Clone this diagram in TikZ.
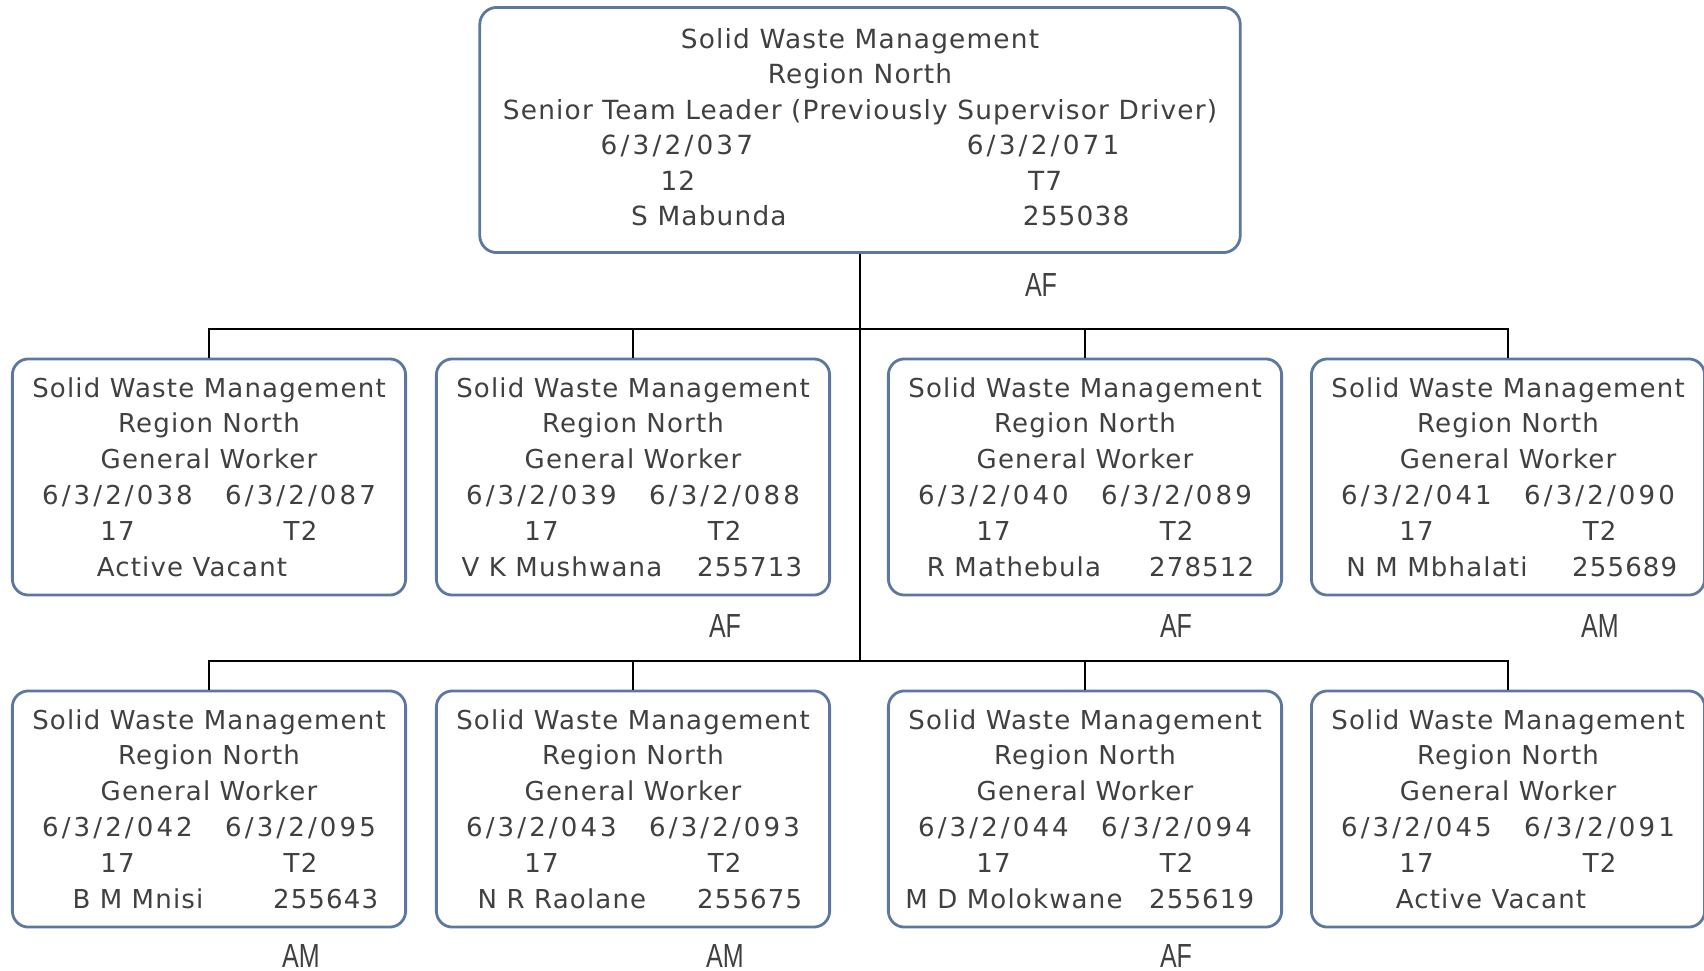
\documentclass[tikz,border=0pt]{standalone}
\usepackage{fontspec}
\newfontfamily\gwfont{DejaVu Sans}[LetterSpace=4.5]
\newfontfamily\codefont{DejaVu Sans}[LetterSpace=12]
\newfontfamily\tagfont{Liberation Sans}[FakeStretch=0.75]
\definecolor{boxline}{RGB}{92,120,160}
\definecolor{txt}{RGB}{64,64,64}
% text centred at an offset from the middle of the line
\newcommand{\atx}[2]{\makebox[0pt]{\hspace*{#1}\hspace*{#1}#2}}
% text starting at an offset from the middle of the line
\newcommand{\atl}[2]{\makebox[0pt][l]{\hspace*{#1}#2}}
\newcommand{\gwtext}[3]{Solid Waste Management\\Region North\\General Worker\\
	\atx{-0.915cm}{\codefont 6/3/2/#1}\atx{0.915cm}{\codefont 6/3/2/#2}\\
	\atx{-0.915cm}{17}\atx{0.915cm}{T2}\\#3}
\newcommand{\who}[2]{\atx{-0.71cm}{#1}\atl{0.64cm}{#2}}
\begin{document}
\begin{tikzpicture}[x=0.01cm, y=-0.01cm, line join=miter,
	topbox/.style={draw=boxline, line width=0.8pt, rounded corners=0.17cm, minimum width=7.6cm, minimum height=2.45cm, align=center, text=txt, inner sep=0pt, font=\gwfont\fontsize{7.5}{10.1}\selectfont},
	gwbox/.style={draw=boxline, line width=0.8pt, rounded corners=0.16cm, minimum width=3.93cm, minimum height=2.36cm, align=center, text=txt, inner sep=0pt, font=\gwfont\fontsize{7.4}{10.2}\selectfont},
	tag/.style={text=txt, inner sep=0pt, font=\tagfont\fontsize{9.5}{10}\selectfont},
	link/.style={line width=0.6pt}]
	
	\useasboundingbox (0,0) rectangle (1704,970);
	
	% Senior Team Leader
	\node[topbox] (top) at (860,130) {Solid Waste Management\\Region North\\Senior Team Leader (Previously Supervisor Driver)\\
		\atx{-1.83cm}{\codefont 6/3/2/037}\atx{1.83cm}{\codefont 6/3/2/071}\\
		\atx{-1.82cm}{12}\atx{1.85cm}{T7}\\
		\atx{-1.51cm}{S Mabunda}\atx{2.16cm}{255038}\rule[-0.06cm]{0pt}{0.06cm}};
	\node[tag] (tagtop) at (1041,285) {AF};
	
	% General Workers, row 1
	\node[gwbox] (r1a) at (209,477) {\gwtext{038}{087}{\atx{-0.17cm}{Active Vacant}}};
	\node[gwbox] (r1b) at (633,477) {\gwtext{039}{088}{\who{V K Mushwana}{255713}}};
	\node[gwbox] (r1c) at (1085,477) {\gwtext{040}{089}{\who{R Mathebula}{278512}}};
	\node[gwbox] (r1d) at (1508,477) {\gwtext{041}{090}{\who{N M Mbhalati}{255689}}};
	\node[tag] (tag1b) at (725,626) {AF};
	\node[tag] (tag1c) at (1176,626) {AF};
	\node[tag] (tag1d) at (1600,626) {AM};
	
	% General Workers, row 2
	\node[gwbox] (r2a) at (209,809) {\gwtext{042}{095}{\who{B M Mnisi}{255643}}};
	\node[gwbox] (r2b) at (633,809) {\gwtext{043}{093}{\who{N R Raolane}{255675}}};
	\node[gwbox] (r2c) at (1085,809) {\gwtext{044}{094}{\who{M D Molokwane}{255619}}};
	\node[gwbox] (r2d) at (1508,809) {\gwtext{045}{091}{\atx{-0.17cm}{Active Vacant}}};
	\node[tag] (tag2a) at (301,956) {AM};
	\node[tag] (tag2b) at (725,956) {AM};
	\node[tag] (tag2c) at (1176,956) {AF};
	
	% Verbindungen
	\coordinate (bus1) at (860,329);
	\coordinate (bus2) at (860,661);
	\draw[link] (top.south) -- (bus2);
	\draw[link] (r1a.north) |- (bus1) -| (r1d.north);
	\draw[link] (r2a.north) |- (bus2) -| (r2d.north);
	\foreach \b in {r1b,r1c} \draw[link] (\b.north) -- (\b.north |- bus1);
	\foreach \b in {r2b,r2c} \draw[link] (\b.north) -- (\b.north |- bus2);
	
\end{tikzpicture}
\end{document}
